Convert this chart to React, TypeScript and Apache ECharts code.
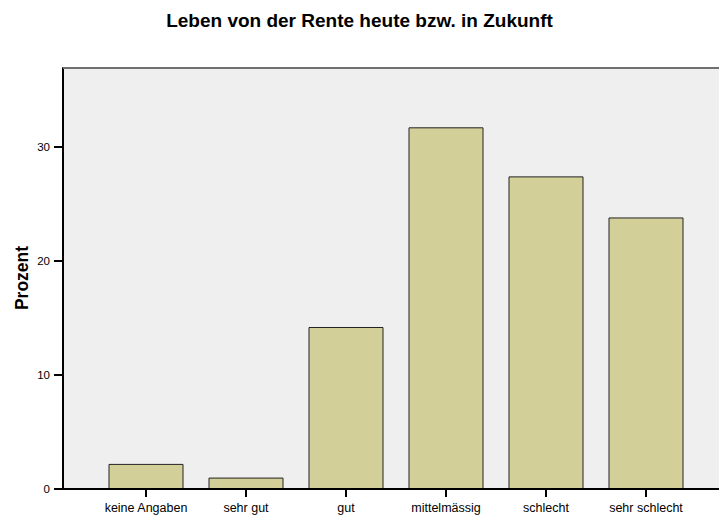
import React, { useEffect, useRef } from "react";
import * as echarts from "echarts";

const title = "Leben von der Rente heute bzw. in Zukunft";
const yAxisName = "Prozent";
const categories = ["keine Angaben", "sehr gut", "gut", "mittelmässig", "schlecht", "sehr schlecht"];
const percentValues = [2.2, 1.0, 14.2, 31.7, 27.4, 23.8];

export default function App() {
  const ref = useRef<HTMLDivElement>(null);
  useEffect(() => {
    if (!ref.current) return;
    const chart = echarts.init(ref.current, null, { renderer: "svg" });
    const font = "'Liberation Sans', Arial, sans-serif";
    chart.setOption({
      animation: false,
      backgroundColor: "#ffffff",
      title: {
        text: title,
        left: "center",
        top: 6,
        textStyle: { fontFamily: font, fontSize: 19, fontWeight: "bold", color: "#000" },
      },
      grid: { left: 96, right: 23, top: 68, bottom: 26 },
      xAxis: {
        type: "category",
        data: categories,
        axisLine: { show: false },
        axisTick: { show: true, alignWithLabel: true, length: 8, lineStyle: { color: "#000", width: 2 } },
        axisLabel: { fontFamily: font, fontSize: 12.5, color: "#000", margin: 12, interval: 0 },
        splitLine: { show: false },
      },
      yAxis: {
        type: "value",
        min: 0,
        max: 36.9,
        interval: 10,
        offset: 33,
        axisLine: { show: true, lineStyle: { color: "#000", width: 2 } },
        axisTick: { show: true, length: 9, lineStyle: { color: "#000", width: 2 } },
        axisLabel: {
          fontFamily: font,
          fontSize: 11.5,
          color: "#000",
          margin: 13,
          showMaxLabel: false,
        },
        splitLine: { show: false },
      },
      graphic: [
        {
          type: "rect",
          z: -10,
          shape: { x: 63, y: 68, width: 656, height: 421 },
          style: { fill: "#efefef" },
        },
        {
          type: "line",
          z: 100,
          shape: { x1: 63, y1: 68, x2: 719, y2: 68 },
          style: { stroke: "#707070", lineWidth: 2 },
        },
        {
          type: "line",
          z: 100,
          shape: { x1: 62, y1: 489, x2: 719, y2: 489 },
          style: { stroke: "#000", lineWidth: 2 },
        },
        {
          type: "text",
          x: 22,
          y: 278,
          rotation: Math.PI / 2,
          style: {
            text: yAxisName,
            fontFamily: font,
            fontSize: 17.5,
            fontWeight: "bold",
            fill: "#000",
            textAlign: "center",
            textVerticalAlign: "middle",
          },
        },
      ],
      series: [
        {
          type: "bar",
          data: percentValues,
          barWidth: 75,
          itemStyle: { color: "#d3cf99", borderColor: "#222", borderWidth: 1 },
        },
      ],
    });
    return () => chart.dispose();
  }, []);
  return <div ref={ref} style={{ width: 719, height: 515, position: "absolute", left: 0, top: 0 }} />;
}
